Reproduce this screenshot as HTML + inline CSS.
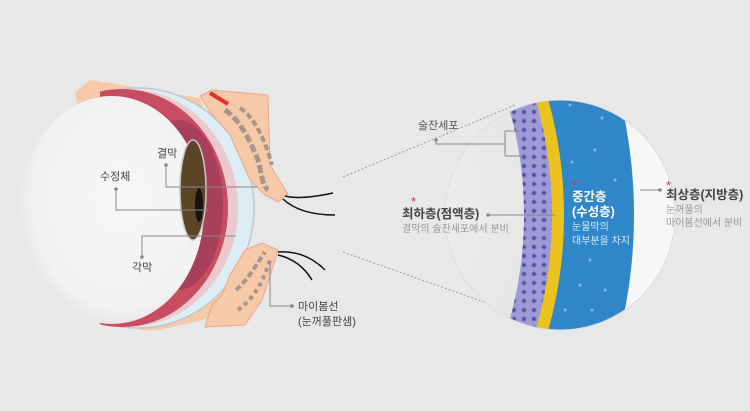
<!DOCTYPE html>
<html><head><meta charset="utf-8"><style>
html,body{margin:0;padding:0;background:#e8e8e8;width:750px;height:411px;overflow:hidden;}
svg{display:block;}
text{font-family:"Liberation Sans","Noto Sans CJK KR",sans-serif;}
</style></head><body>
<svg width="750" height="411" viewBox="0 0 750 411" xmlns="http://www.w3.org/2000/svg">
<defs>
<radialGradient id="sph" cx="0.55" cy="0.45" r="0.6"><stop offset="0" stop-color="#f7f7f7"/><stop offset="0.8" stop-color="#f2f2f2"/><stop offset="1" stop-color="#e2e2e2"/></radialGradient>
<radialGradient id="gl" cx="0.8" cy="0.5" r="0.75"><stop offset="0" stop-color="#f0f0f0"/><stop offset="0.6" stop-color="#dcdcdc"/><stop offset="1" stop-color="#c2c2c2"/></radialGradient>
<clipPath id="cc"><circle cx="560" cy="215" r="115"/></clipPath>
<clipPath id="cr"><rect x="100" y="0" width="300" height="411"/></clipPath>
<pattern id="cells" width="10" height="9" patternUnits="userSpaceOnUse"><rect width="10" height="9" fill="#9d9ad6"/><circle cx="4" cy="4" r="2.5" fill="#6e6ab8"/><circle cx="4" cy="4" r="1" fill="#3f3c8a"/></pattern>
</defs>
<rect width="750" height="411" fill="#e8e8e8"/>

<polygon points="75,92 90,80 140,88 200,98 205,112 210,140 230,150 232,300 210,318 160,330 140,330 120,322" fill="#f6c9a8"/>
<g clip-path="url(#cr)">
<ellipse cx="138" cy="208" rx="116" ry="120" fill="#dcedf4" stroke="#c2c7cc" stroke-width="1.5"/>
<ellipse cx="128" cy="208" rx="110" ry="119" fill="#ecc9cd"/>
<ellipse cx="122" cy="208" rx="106" ry="119" fill="#c94d60"/>
<ellipse cx="178" cy="205" rx="45" ry="85" fill="#a8405a"/>
</g>
<ellipse cx="112" cy="210" rx="92" ry="114" fill="url(#sph)"/>
<ellipse cx="193" cy="190" rx="13" ry="50" fill="#5c4526" stroke="#c8c8c8" stroke-width="1.5"/>
<ellipse cx="199" cy="205" rx="4" ry="17" fill="#1a1010"/>

<path d="M200,96 L212,90 L268,95 L270,165 L288,194 L278,202 L265,195 L250,180 L230,135 L210,112 Z" fill="#f6c9a8" stroke="#eba88c" stroke-width="1"/>
<path d="M210,93 L228,104" stroke="#e0302a" stroke-width="4"/>
<path d="M225,110 C240,120 250,140 258,160 C262,175 262,185 268,190" stroke="#a8958c" stroke-width="5" fill="none" stroke-dasharray="8 3"/>
<path d="M240,108 C255,118 265,140 272,165" stroke="#a8958c" stroke-width="4" fill="none" stroke-dasharray="6 3"/>
<path d="M245,250 L262,243 L278,250 L272,270 L262,300 L245,325 L205,327 L212,305 L222,295 L230,275 Z" fill="#f6c9a8" stroke="#eba88c" stroke-width="1"/>
<path d="M236,290 C248,280 258,262 265,252" stroke="#a8958c" stroke-width="4" fill="none" stroke-dasharray="6 3"/>
<path d="M238,310 C252,300 262,285 270,260" stroke="#a8958c" stroke-width="4" fill="none" stroke-dasharray="4 4"/>
<path d="M285,196 Q300,200 333,193" stroke="#111" stroke-width="1.5" fill="none"/>
<path d="M283,199 Q300,215 335,215" stroke="#111" stroke-width="1.5" fill="none"/>
<path d="M278,252 Q305,250 325,270" stroke="#111" stroke-width="1.5" fill="none"/>
<path d="M278,255 Q300,260 312,280" stroke="#111" stroke-width="1.5" fill="none"/>

<g stroke="#888" stroke-width="1" fill="none">
<path d="M166,165 V187 H258"/>
<path d="M116,189 V210 H208"/>
<path d="M142,257 V236 H236"/>
<path d="M270,262 V306 H292"/>
</g>
<g fill="#888"><circle cx="166" cy="165" r="1.8"/><circle cx="116" cy="189" r="1.8"/><circle cx="142" cy="257" r="1.8"/><circle cx="292" cy="306" r="1.8"/></g>
<g font-size="11" fill="#444">
<text x="157" y="157">결막</text>
<text x="100" y="180">수정체</text>
<text x="132" y="271">각막</text>
<text x="298" y="310">마이봄선</text>
<text x="298" y="325">(눈꺼풀판샘)</text>
</g>

<path d="M343,177 L515,105" stroke="#999" stroke-dasharray="2 2"/>
<path d="M343,252 L515,313" stroke="#999" stroke-dasharray="2 2"/>

<g clip-path="url(#cc)">
<rect x="440" y="95" width="240" height="240" fill="url(#gl)"/>
<circle cx="134" cy="215" r="540" fill="#f7f7f7"/>
<circle cx="134" cy="215" r="500" fill="#2f86c9"/>
<circle cx="134" cy="215" r="430" fill="#ecc21e"/>
<circle cx="134" cy="215" r="418" fill="url(#cells)"/>
<circle cx="134" cy="215" r="390" fill="url(#gl)"/>
<g fill="#9fd0f2" opacity="0.7"><circle cx="570" cy="105" r="1.5"/><circle cx="602" cy="118" r="1.5"/><circle cx="595" cy="150" r="1.5"/><circle cx="572" cy="162" r="1.5"/><circle cx="615" cy="180" r="1.5"/><circle cx="590" cy="260" r="1.5"/><circle cx="605" cy="290" r="1.5"/><circle cx="565" cy="310" r="1.5"/><circle cx="592" cy="310" r="1.5"/><circle cx="580" cy="285" r="1.5"/></g>
</g>
<circle cx="560" cy="215" r="115" fill="none" stroke="#ddd" stroke-width="1"/>

<g stroke="#888" fill="none" stroke-width="1">
<path d="M436,140 V144 H505 M505,131 V156 M505,131 H520 M505,156 H522"/>
<path d="M488,215 H555"/>
<path d="M660,190 H640"/>
</g>
<g fill="#888"><circle cx="436" cy="140" r="1.8"/><circle cx="488" cy="215" r="1.8"/><circle cx="660" cy="190" r="1.8"/></g>
<text x="418" y="129" font-size="11" fill="#555">술잔세포</text>
<text x="411" y="206" font-size="13" fill="#e0304a">*</text>
<text x="402" y="218" font-size="12.5" font-weight="bold" fill="#444">최하층(점액층)</text>
<text x="402" y="232" font-size="10" fill="#999">결막의 술잔세포에서 분비</text>
<text x="572" y="190" font-size="13" fill="#e0304a">*</text>
<text x="572" y="201" font-size="12.5" font-weight="bold" fill="#fff">중간층</text>
<text x="572" y="216" font-size="12.5" font-weight="bold" fill="#fff">(수성층)</text>
<text x="572" y="230" font-size="10" fill="#d6ecfb">눈물막의</text>
<text x="572" y="244" font-size="10" fill="#d6ecfb">대부분을 차지</text>
<text x="666" y="190" font-size="13" fill="#e0304a">*</text>
<text x="666" y="199" font-size="12.5" font-weight="bold" fill="#444">최상층(지방층)</text>
<text x="666" y="213" font-size="10" fill="#999">눈꺼풀의</text>
<text x="666" y="226" font-size="10" fill="#999">마이봄선에서 분비</text>
</svg>
</body></html>
